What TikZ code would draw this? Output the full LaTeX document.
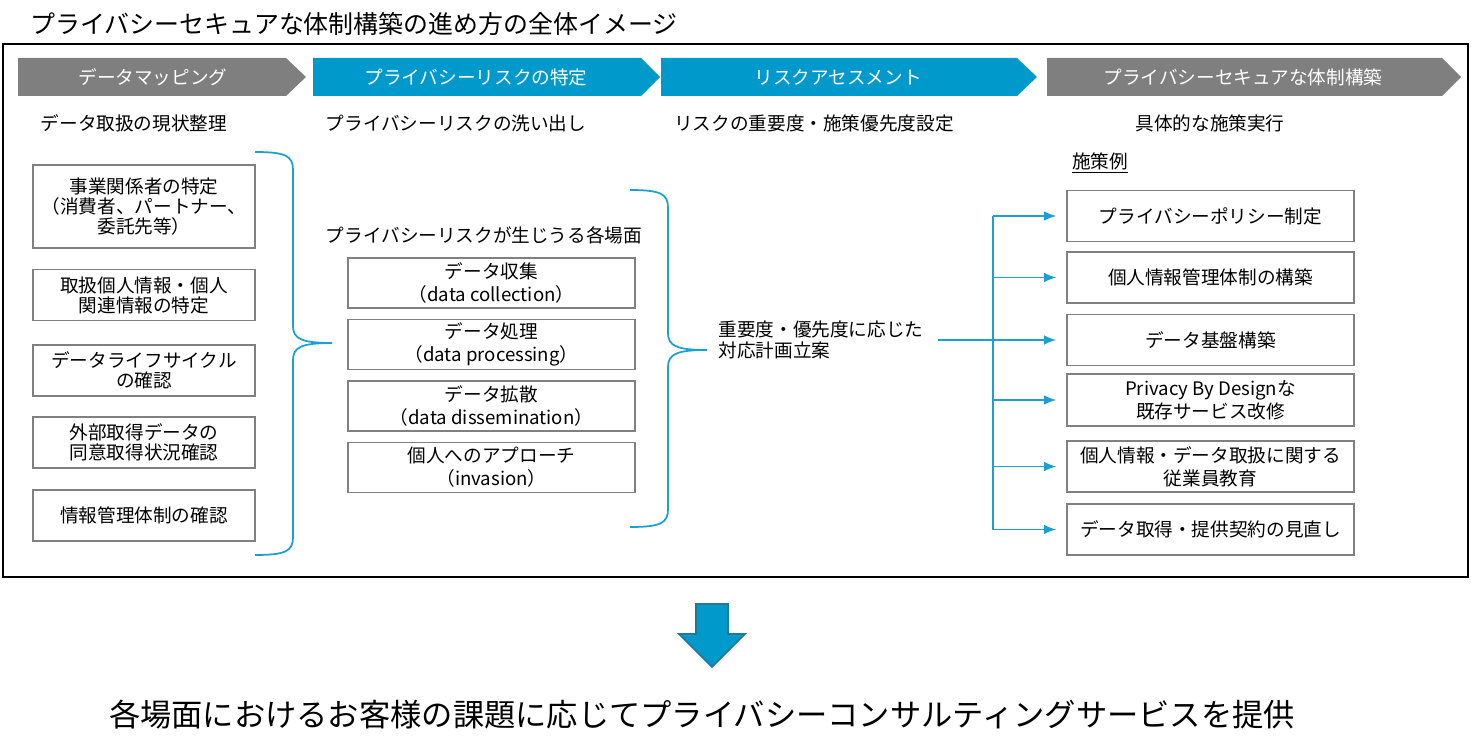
\documentclass[tikz,border=0pt]{standalone}
\usepackage{fontspec}
\setmainfont{Noto Sans CJK JP}
\usepackage{tikz}
\usetikzlibrary{arrows.meta}

\definecolor{barblue}{HTML}{0099CC}
\definecolor{bargray}{HTML}{7F7F7F}
\definecolor{linkblue}{HTML}{1BA0D2}
\definecolor{boxgray}{HTML}{808080}
\definecolor{arrowedge}{HTML}{1F7896}

\begin{document}
\begin{tikzpicture}[
    x = 0.02cm, y = -0.02cm, % one unit = one pixel of the layout
    >= {Latex[length=2.4mm, width=1.9mm]}, % arrow head style
    semithick % line style
  ]

  \tikzstyle{every node}=[
      inner sep = 0pt,
      font = \fontsize{10.6}{12.5}\selectfont
  ]
  \tikzstyle{itembox}=[draw = boxgray, line width = 0.9pt, align = center]
  \tikzstyle{bartext}=[text = white]
  \tikzstyle{brace}=[draw = linkblue, line width = 1pt]
  \tikzstyle{flow}=[draw = linkblue, line width = 0.9pt, ->, shorten >= 0.2cm]
  \tikzstyle{flowline}=[draw = linkblue, line width = 0.9pt]

  \useasboundingbox (0,0) rectangle (1472,753);

  % title and frame
  \node[anchor=west, font=\fontsize{14.2}{16}\selectfont] (title) at (30,24) {プライバシーセキュアな体制構築の進め方の全体イメージ};
  \draw[line width=1.6pt] (3,44) rectangle (1468,577);

  % phase bars
  \fill[bargray] (18,58) -- (286,58) -- (306,77) -- (286,96) -- (18,96) -- cycle;
  \fill[barblue] (313,58) -- (641,58) -- (660,77) -- (641,96) -- (313,96) -- cycle;
  \fill[barblue] (661,58) -- (1017,58) -- (1037,77) -- (1017,96) -- (661,96) -- cycle;
  \fill[bargray] (1047,58) -- (1442,58) -- (1461,77) -- (1442,96) -- (1047,96) -- cycle;
  \node[bartext] (bar1) at (153,77) {データマッピング};
  \node[bartext] (bar2) at (476,77) {プライバシーリスクの特定};
  \node[bartext] (bar3) at (838,77) {リスクアセスメント};
  \node[bartext] (bar4) at (1243,77) {プライバシーセキュアな体制構築};

  \node[] (sub1) at (134,123) {データ取扱の現状整理};
  \node[] (sub2) at (456,123) {プライバシーリスクの洗い出し};
  \node[] (sub3) at (814,123) {リスクの重要度・施策優先度設定};
  \node[] (sub4) at (1210,123) {具体的な施策実行};

  % data mapping
  \tikzstyle{every node}+=[font=\fontsize{10.6}{11.4}\selectfont]
  \node[itembox, minimum width=4.44cm, minimum height=1.66cm] (map1) at (144,206.5) {事業関係者の特定\\（消費者、パートナー、\\委託先等）};
  \node[itembox, minimum width=4.44cm, minimum height=1.02cm] (map2) at (144,295) {取扱個人情報・個人\\関連情報の特定};
  \node[itembox, minimum width=4.44cm, minimum height=1.02cm] (map3) at (144,370.5) {データライフサイクル\\の確認};
  \node[itembox, minimum width=4.44cm, minimum height=1.02cm] (map4) at (144,442.5) {外部取得データの\\同意取得状況確認};
  \node[itembox, minimum width=4.44cm, minimum height=1.02cm] (map5) at (144,515.5) {情報管理体制の確認};

  \coordinate (tip1) at (332,343);
  \path[brace] (255,152) .. controls (286,152) and (293,156) .. (293,170) -- (293,326)
     .. controls (293,339) and (302,343) .. (tip1);
  \path[brace] (255,555) .. controls (286,555) and (293,551) .. (293,537) -- (293,360)
     .. controls (293,347) and (302,343) .. (tip1);

  % risk scenes
  \tikzstyle{every node}+=[font=\fontsize{10.6}{13}\selectfont]
  \node[] (scenes) at (484,235) {プライバシーリスクが生じうる各場面};
  \node[itembox, minimum width=5.74cm, minimum height=1cm] (risk1) at (491.5,283) {データ収集\\（data collection）};
  \node[itembox, minimum width=5.74cm, minimum height=1cm] (risk2) at (491.5,344.5) {データ処理\\（data processing）};
  \node[itembox, minimum width=5.74cm, minimum height=1cm] (risk3) at (491.5,406) {データ拡散\\（data dissemination）};
  \node[itembox, minimum width=5.74cm, minimum height=1cm] (risk4) at (491.5,467.5) {個人へのアプローチ\\（invasion）};

  \coordinate (tip2) at (707,350);
  \path[brace] (630,190) .. controls (661,190) and (668,194) .. (668,208) -- (668,333)
     .. controls (668,346) and (677,350) .. (tip2);
  \path[brace] (630,527) .. controls (661,527) and (668,523) .. (668,509) -- (668,367)
     .. controls (668,354) and (677,350) .. (tip2);

  % assessment
  \node[anchor=west, align=left, font=\fontsize{10.6}{11.9}\selectfont] (plan) at (718,340) {重要度・優先度に応じた\\対応計画立案};

  % measures
  \node[] (example) at (1100,163) {\underline{施策例}};
  \node[itembox, minimum width=5.74cm, minimum height=1.02cm] (act1) at (1210.5,216) {プライバシーポリシー制定};
  \node[itembox, minimum width=5.74cm, minimum height=1.02cm] (act2) at (1210.5,277.5) {個人情報管理体制の構築};
  \node[itembox, minimum width=5.74cm, minimum height=1.02cm] (act3) at (1210.5,340) {データ基盤構築};
  \node[itembox, minimum width=5.74cm, minimum height=1.04cm] (act4) at (1210.5,400) {Privacy By Designな\\既存サービス改修};
  \node[itembox, minimum width=5.74cm, minimum height=1.02cm] (act5) at (1210.5,466.5) {個人情報・データ取扱に関する\\従業員教育};
  \node[itembox, minimum width=5.74cm, minimum height=1.02cm] (act6) at (1210.5,529.5) {データ取得・提供契約の見直し};

  \coordinate (fork) at (993,340);
  \draw[flow, shorten <= 0.28cm] (plan.east) -- (plan.east -| act3.west);
  \draw[flowline] (fork |- act1) -- (fork |- act6);
  \foreach \i in {1,2,4,5,6}
    \draw[flow] (fork |- act\i) -- (act\i.west);

  % result
  \filldraw[fill=barblue, draw=arrowedge, line width=1pt]
    (696,604) -- (728,604) -- (728,634) -- (745,634) -- (712,667) -- (679,634) -- (696,634) -- cycle;
  \node[font=\fontsize{17.8}{20}\selectfont] (offer) at (702,715) {各場面におけるお客様の課題に応じてプライバシーコンサルティングサービスを提供};
\end{tikzpicture}
\end{document}
